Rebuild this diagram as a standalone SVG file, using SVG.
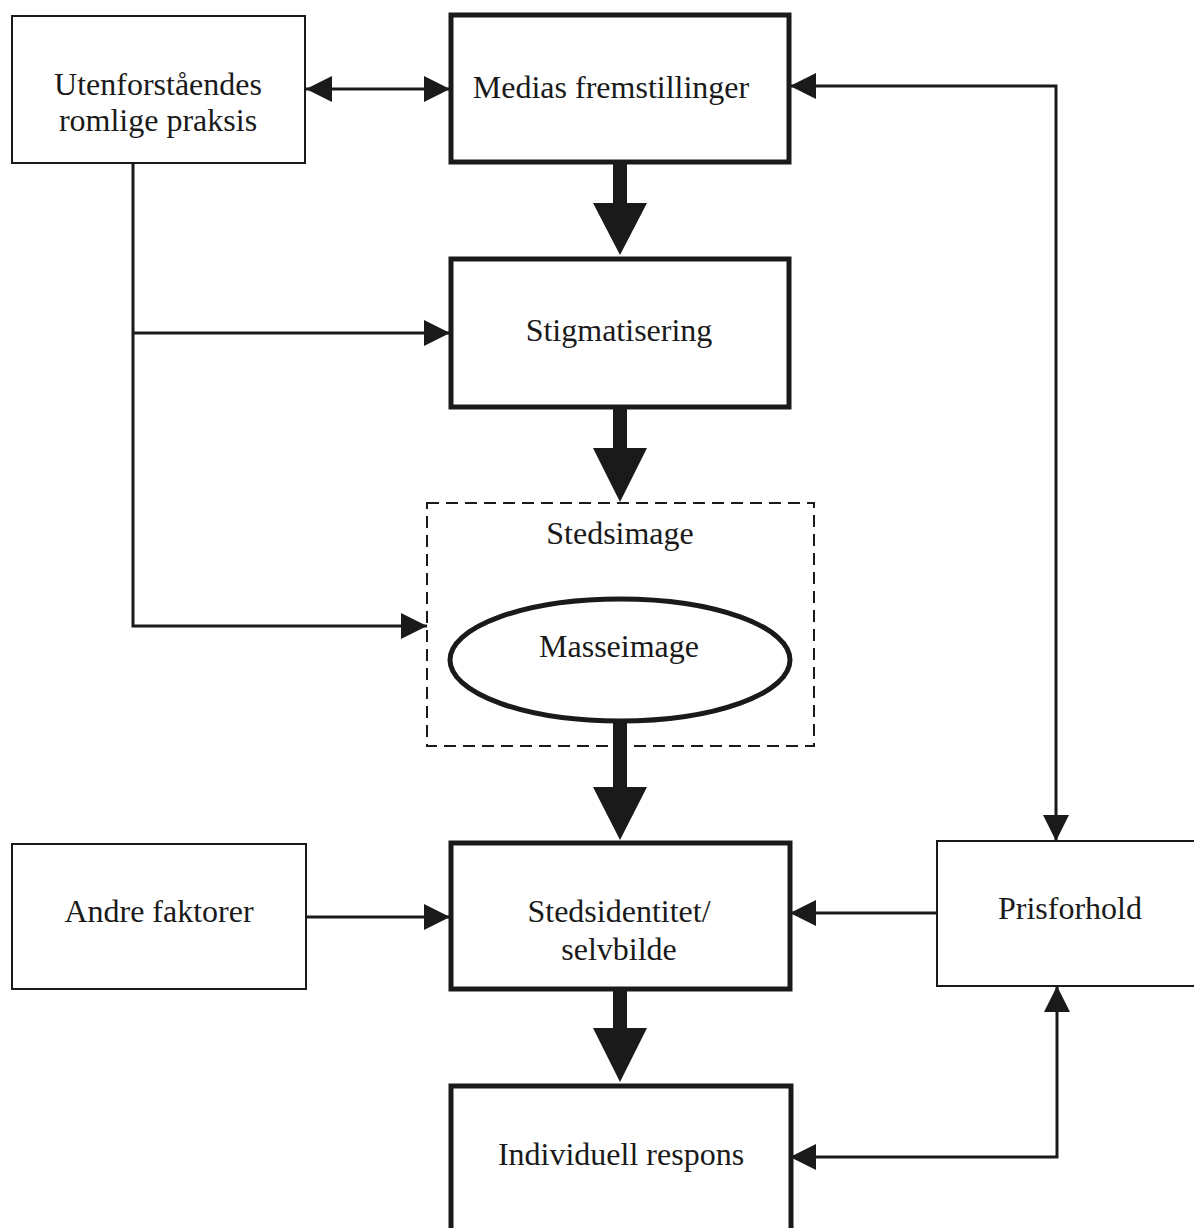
<svg xmlns="http://www.w3.org/2000/svg" width="1194" height="1228" viewBox="0 0 1194 1228">
<defs>
<style>
.thin{fill:#fff;stroke:#1a1a1a;stroke-width:2}
.thick{fill:#fff;stroke:#1a1a1a;stroke-width:5}
.dash{fill:none;stroke:#1a1a1a;stroke-width:2;stroke-dasharray:12 7}
.ln{fill:none;stroke:#1a1a1a;stroke-width:3}
.big{fill:#1a1a1a}
text{font-family:"Liberation Serif","Times New Roman",serif;font-size:32px;fill:#1a1a1a;text-anchor:middle}
</style>
<marker id="ah" viewBox="0 0 26 26" refX="26" refY="13" markerWidth="26" markerHeight="26" markerUnits="userSpaceOnUse" orient="auto-start-reverse">
<path d="M0,0 L26,13 L0,26 Z" fill="#1a1a1a"/>
</marker>
</defs>
<rect width="1194" height="1228" fill="#fff"/>

<g id="connectors">
<line class="ln" x1="306" y1="89" x2="450" y2="89" marker-start="url(#ah)" marker-end="url(#ah)"/>
<polyline class="ln" points="133,163 133,626 427,626" marker-end="url(#ah)"/>
<line class="ln" x1="133" y1="333" x2="450" y2="333" marker-end="url(#ah)"/>
<polyline class="ln" points="1056,841 1056,86 790,86" marker-start="url(#ah)" marker-end="url(#ah)"/>
<line class="ln" x1="937" y1="913" x2="790" y2="913" marker-end="url(#ah)"/>
<line class="ln" x1="306" y1="917" x2="450" y2="917" marker-end="url(#ah)"/>
<polyline class="ln" points="1057,986 1057,1157 790,1157" marker-start="url(#ah)" marker-end="url(#ah)"/>
<path class="big" d="M613,163 H627 V203 H647 L620,255 L593,203 H613 Z"/>
<path class="big" d="M613,408 H627 V448 H647 L620,502 L593,448 H613 Z"/>
<path class="big" d="M613,720 H627 V787 H647 L620,840 L593,787 H613 Z"/>
<path class="big" d="M613,990 H627 V1028 H647 L620,1082 L593,1028 H613 Z"/>
</g>

<g id="utenforstaendes">
<rect class="thin" x="12" y="16" width="293" height="147"/>
<text x="158" y="95">Utenforståendes</text>
<text x="158" y="131">romlige praksis</text>
</g>

<g id="medias">
<rect class="thick" x="451" y="15" width="338" height="147"/>
<text x="611" y="98">Medias fremstillinger</text>
</g>

<g id="stigmatisering">
<rect class="thick" x="451" y="259" width="338" height="148"/>
<text x="619" y="341">Stigmatisering</text>
</g>

<g id="stedsimage">
<rect class="dash" x="427" y="503" width="387" height="243"/>
<text x="620" y="544">Stedsimage</text>
</g>

<g id="masseimage">
<ellipse cx="620" cy="660" rx="170" ry="61" fill="#fff" stroke="#1a1a1a" stroke-width="5"/>
<text x="619" y="657">Masseimage</text>
</g>

<g id="stedsidentitet">
<rect class="thick" x="451" y="843" width="339" height="146"/>
<text x="619" y="922">Stedsidentitet/</text>
<text x="619" y="960">selvbilde</text>
</g>

<g id="andre">
<rect class="thin" x="12" y="844" width="294" height="145"/>
<text x="159" y="922">Andre faktorer</text>
</g>

<g id="prisforhold">
<rect class="thin" x="937" y="841" width="262" height="145"/>
<text x="1070" y="919">Prisforhold</text>
</g>

<g id="individuell">
<rect class="thick" x="451" y="1086" width="340" height="150"/>
<text x="621" y="1165">Individuell respons</text>
</g>
</svg>
